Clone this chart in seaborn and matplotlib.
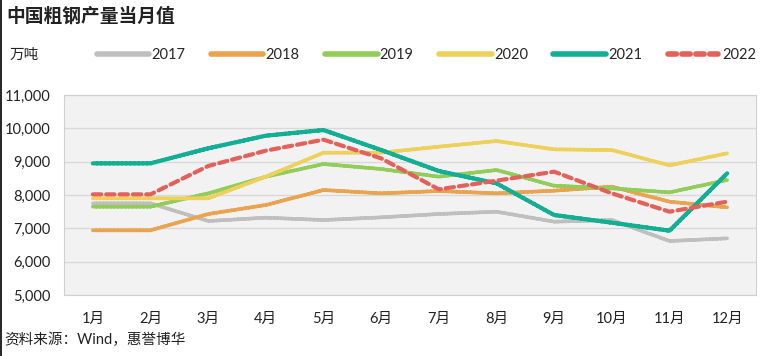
import pandas as pd
import matplotlib
matplotlib.use('Agg')
import matplotlib.pyplot as plt
import seaborn as sns

# monthly crude steel output, 10k tonnes
months = ['1月', '2月', '3月', '4月', '5月', '6月', '7月', '8月', '9月', '10月', '11月', '12月']
y2017 = [7750, 7750, 7220, 7320, 7250, 7330, 7430, 7500, 7200, 7250, 6620, 6700]
y2018 = [6940, 6940, 7430, 7700, 8150, 8050, 8120, 8050, 8130, 8250, 7800, 7630]
y2019 = [7650, 7650, 8050, 8550, 8930, 8780, 8550, 8750, 8280, 8200, 8080, 8450]
y2020 = [7900, 7900, 7900, 8550, 9270, 9270, 9450, 9620, 9370, 9350, 8890, 9250]
y2021 = [8950, 8950, 9400, 9780, 9950, 9350, 8720, 8350, 7400, 7170, 6930, 8650]
y2022 = [8020, 8020, 8870, 9330, 9660, 9100, 8170, 8430, 8700, 8050, 7500, 7800]
years = ['2017', '2018', '2019', '2020', '2021', '2022']
colors = ['#bfbfbf', '#e8a44e', '#92cc5a', '#ecd25a', '#13ae94', '#e4605a']

series = [y2017, y2018, y2019, y2020, y2021, y2022]
df = pd.concat([pd.DataFrame({'month': months, 'value': s, 'year': yr})
                for yr, s in zip(years, series)])

sns.set_style('white')
plt.rcParams['font.family'] = ['Lato', 'Noto Sans CJK SC', 'DejaVu Sans']

fig = plt.figure(figsize=(7.74, 3.56), dpi=100)
ax = fig.add_axes([0.0827, 0.1713, 0.894, 0.5618])
ax.set_facecolor('#f2f2f2')

sns.lineplot(data=df, x='month', y='value', hue='year', style='year',
             palette=colors, dashes=[(1, 0)] * 5 + [(2, 1.2)],
             linewidth=2.6, sort=False, ax=ax, legend=False)
for line in ax.lines:
    line.set_solid_capstyle('round')
    line.set_dash_capstyle('round')
ax.lines[4].set_linewidth(3.0)
ax.lines[5].set_linewidth(3.0)

ax.set_ylim(5000, 11000)
ax.set_xlim(-0.5, 11.5)
ax.set_yticks(range(5000, 11001, 1000))
ax.set_yticklabels([f'{v:,}' for v in range(5000, 11001, 1000)])
ax.yaxis.grid(True, color='#d9d9d9', linewidth=1)
ax.set_axisbelow(True)
for sp in ax.spines.values():
    sp.set_color('#d0d0d0')
ax.tick_params(axis='both', length=0, labelsize=10.5, colors='#222222')
ax.tick_params(axis='x', pad=12)
ax.tick_params(axis='y', pad=10)
ax.set_xlabel('')
ax.set_ylabel('')

handles = [plt.Line2D([], [], color=c, linewidth=4.0, solid_capstyle='round',
                      dash_capstyle='round',
                      linestyle=(0, (1.5, 1.0)) if yr == '2022' else '-')
           for yr, c in zip(years, colors)]
fig.legend(handles, years, loc='center left', bbox_to_anchor=(0.108, 0.845),
           ncol=6, frameon=False, fontsize=10.5, handlelength=3.6,
           handletextpad=0.15, columnspacing=1.75)

fig.text(0.008, 0.955, '中国粗钢产量当月值', fontsize=13.5, fontweight='bold',
         va='center', ha='left', color='#222222')
fig.text(0.012, 0.845, '万吨', fontsize=10.5, va='center', ha='left', color='#222222')
fig.text(0.005, 0.045, '资料来源：Wind，惠誉博华', fontsize=10.5, va='center',
         ha='left', color='#222222')
# thin frame edge on the left like the source image
fig.add_artist(plt.Line2D([0.001, 0.001], [0, 1], color='black', linewidth=1.2,
                          transform=fig.transFigure))

fig.savefig('out.png', dpi=100)
